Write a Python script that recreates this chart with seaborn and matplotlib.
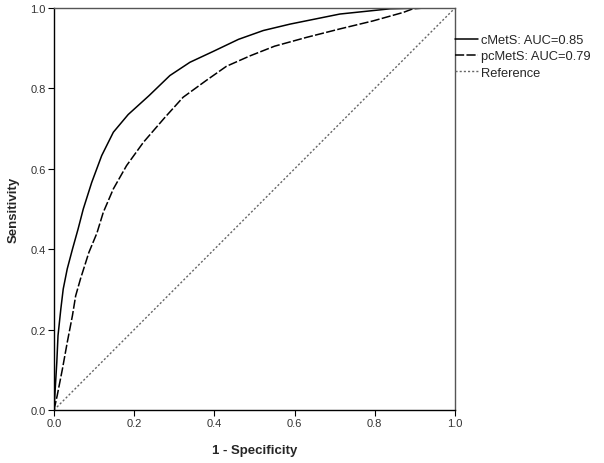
import matplotlib
matplotlib.use("Agg")
import matplotlib.pyplot as plt
import seaborn as sns
import pandas as pd

# ROC curve data
cmets_fpr = [0.0, 0.003, 0.007, 0.010, 0.017, 0.023, 0.033, 0.046, 0.060, 0.073, 0.094,
             0.119, 0.148, 0.185, 0.237, 0.289, 0.339, 0.397, 0.460, 0.522, 0.589,
             0.713, 0.838, 0.925, 1.0]
cmets_tpr = [0.0, 0.052, 0.119, 0.185, 0.251, 0.301, 0.351, 0.400, 0.450, 0.500, 0.566,
             0.633, 0.691, 0.735, 0.782, 0.832, 0.865, 0.892, 0.922, 0.944, 0.960,
             0.985, 0.998, 1.0, 1.0]

pcmets_fpr = [0.0, 0.008, 0.021, 0.033, 0.046, 0.054, 0.066, 0.087, 0.107, 0.123, 0.148,
              0.181, 0.223, 0.275, 0.322, 0.380, 0.430, 0.489, 0.550, 0.630, 0.713,
              0.796, 0.871, 0.895, 0.925, 1.0]
pcmets_tpr = [0.0, 0.036, 0.102, 0.168, 0.235, 0.284, 0.326, 0.392, 0.440, 0.492, 0.550,
              0.608, 0.666, 0.726, 0.778, 0.820, 0.855, 0.881, 0.905, 0.927, 0.948,
              0.968, 0.989, 0.998, 1.0, 1.0]

ref_x = [0.0, 1.0]
ref_y = [0.0, 1.0]

labels = ["cMetS: AUC=0.85", "pcMetS: AUC=0.79", "Reference"]
ticks = [0.0, 0.2, 0.4, 0.6, 0.8, 1.0]

sns.set_style("white")
plt.rcParams['font.family'] = ['Liberation Sans', 'DejaVu Sans']

fig = plt.figure(figsize=(6.04, 4.64), dpi=100)
ax = fig.add_axes([54/604, 1-411/464, (455-54)/604, (411-9)/464])

df1 = pd.DataFrame({"x": cmets_fpr, "y": cmets_tpr})
df2 = pd.DataFrame({"x": pcmets_fpr, "y": pcmets_tpr})
df3 = pd.DataFrame({"x": ref_x, "y": ref_y})

sns.lineplot(data=df1, x="x", y="y", ax=ax, sort=False, estimator=None,
             color="black", linewidth=1.1, label=labels[0])
sns.lineplot(data=df2, x="x", y="y", ax=ax, sort=False, estimator=None,
             color="black", linewidth=1.1, label=labels[1])
ax.lines[-1].set_dashes([6, 1.5])
sns.lineplot(data=df3, x="x", y="y", ax=ax, sort=False, estimator=None,
             color="#666666", linewidth=1.0, label=labels[2])
ax.lines[-1].set_dashes([1.5, 1.5])

ax.set_xlim(0, 1)
ax.set_ylim(0, 1)
ax.set_xticks(ticks)
ax.set_yticks(ticks)
ax.set_xticklabels([f"{t:.1f}" for t in ticks], fontsize=8, color="#333333")
ax.set_yticklabels([f"{t:.1f}" for t in ticks], fontsize=8, color="#333333")
ax.tick_params(axis="both", direction="out", length=4, width=0.8, color="black",
               bottom=True, left=True, pad=2)
for s in ["left", "bottom"]:
    ax.spines[s].set_color("black")
    ax.spines[s].set_linewidth(1.0)
for s in ["top", "right"]:
    ax.spines[s].set_color("#555555")
    ax.spines[s].set_linewidth(1.0)

ax.set_xlabel("1 - Specificity", fontsize=9.5, fontweight="bold", labelpad=11)
ax.set_ylabel("Sensitivity", fontsize=9.5, fontweight="bold", labelpad=8)

leg = ax.legend(loc="upper left", bbox_to_anchor=(1.0, 0.935), frameon=False,
                fontsize=9.3, handlelength=1.8, handletextpad=0.25,
                borderaxespad=0, borderpad=0, labelspacing=0.32)

fig.savefig("out.png", dpi=100)
